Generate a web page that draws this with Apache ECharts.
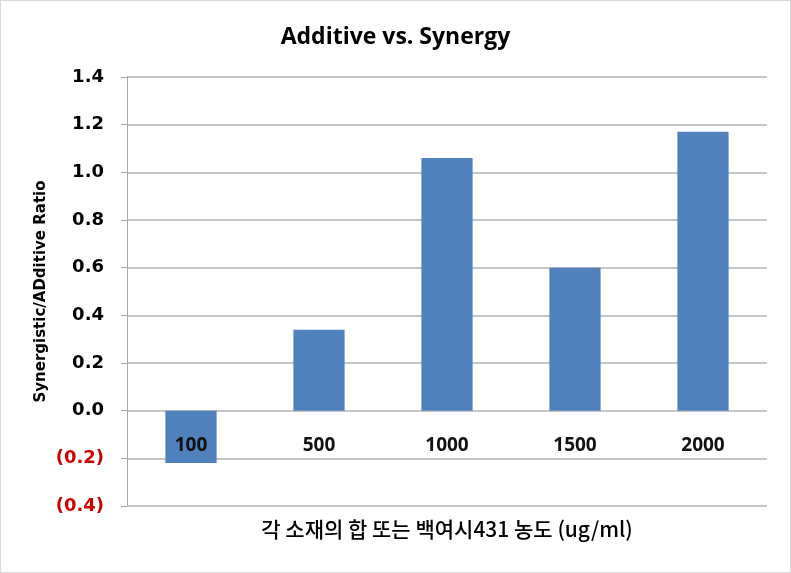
<!DOCTYPE html>
<html>
<head>
<meta charset="utf-8">
<script src="https://cdn.jsdelivr.net/npm/echarts@6/dist/echarts.min.js"></script>
<style>
html,body{margin:0;padding:0;background:#fff;}
#chart{width:791px;height:573px;box-sizing:border-box;border:1px solid #d9d9d9;}
</style>
</head>
<body>
<div id="chart"></div>
<script>
const categories = ['100', '500', '1000', '1500', '2000'];
const ratioValues = [-0.22, 0.34, 1.06, 0.60, 1.17];
const titleText = 'Additive vs. Synergy';
const yAxisName = 'Synergistic/ADditive Ratio';
const xAxisName = '각 소재의 합 또는 백여시431 농도 (ug/ml)';
const yMin = -0.4, yMax = 1.4, yStep = 0.2;

const chart = echarts.init(document.getElementById('chart'), null, {renderer: 'canvas'});
chart.setOption({
  animation: false,
  backgroundColor: '#ffffff',
  title: {
    text: titleText,
    left: 'center',
    top: 20,
    textStyle: {fontFamily: 'Open Sans', fontWeight: 'bold', fontSize: 23, color: '#000'}
  },
  grid: {left: 126, right: 23, top: 76, bottom: 66, containLabel: false, outerBoundsMode: 'none'},
  xAxis: {
    type: 'category',
    data: categories,
    position: 'bottom',
    name: xAxisName,
    nameLocation: 'middle',
    nameGap: 13,
    nameMoveOverlap: false,
    nameTextStyle: {fontFamily: 'Noto Sans CJK KR', fontSize: 21, fontWeight: 500, color: '#000', verticalAlign: 'top'},
    axisLine: {show: false, onZero: false},
    axisTick: {show: false},
    axisLabel: {margin: -70, verticalAlign: 'top', fontFamily: 'Noto Sans', fontWeight: 'bold', fontSize: 19, color: '#111'},
    z: 10
  },
  yAxis: {
    type: 'value',
    min: yMin, max: yMax, interval: yStep,
    name: yAxisName,
    nameLocation: 'middle',
    nameGap: 78,
    nameMoveOverlap: false,
    nameTextStyle: {fontFamily: 'DejaVu Sans', fontWeight: 'bold', fontSize: 15, color: '#000'},
    axisLine: {show: true, lineStyle: {color: '#a6a6a6', width: 1}},
    axisTick: {show: true, length: 6, lineStyle: {color: '#a6a6a6'}},
    splitLine: {lineStyle: {color: '#c6c6c6', width: 2}},
    axisLabel: {
      margin: 23,
      fontFamily: 'DejaVu Sans', fontWeight: 'bold', fontSize: 18,
      formatter: function (v) {
        const r = Math.round(v * 10) / 10;
        if (r < 0) return '{neg|(' + Math.abs(r).toFixed(1) + ')}';
        return '{pos|' + r.toFixed(1) + '}';
      },
      rich: {
        pos: {fontFamily: 'DejaVu Sans', fontWeight: 'bold', fontSize: 18, color: '#000'},
        neg: {fontFamily: 'DejaVu Sans', fontWeight: 'bold', fontSize: 18, color: '#d00000'}
      }
    }
  },
  series: [{
    type: 'bar',
    data: ratioValues,
    barWidth: '40%',
    itemStyle: {color: '#4f81bd'},
    z: 2
  }]
});
</script>
</body>
</html>
